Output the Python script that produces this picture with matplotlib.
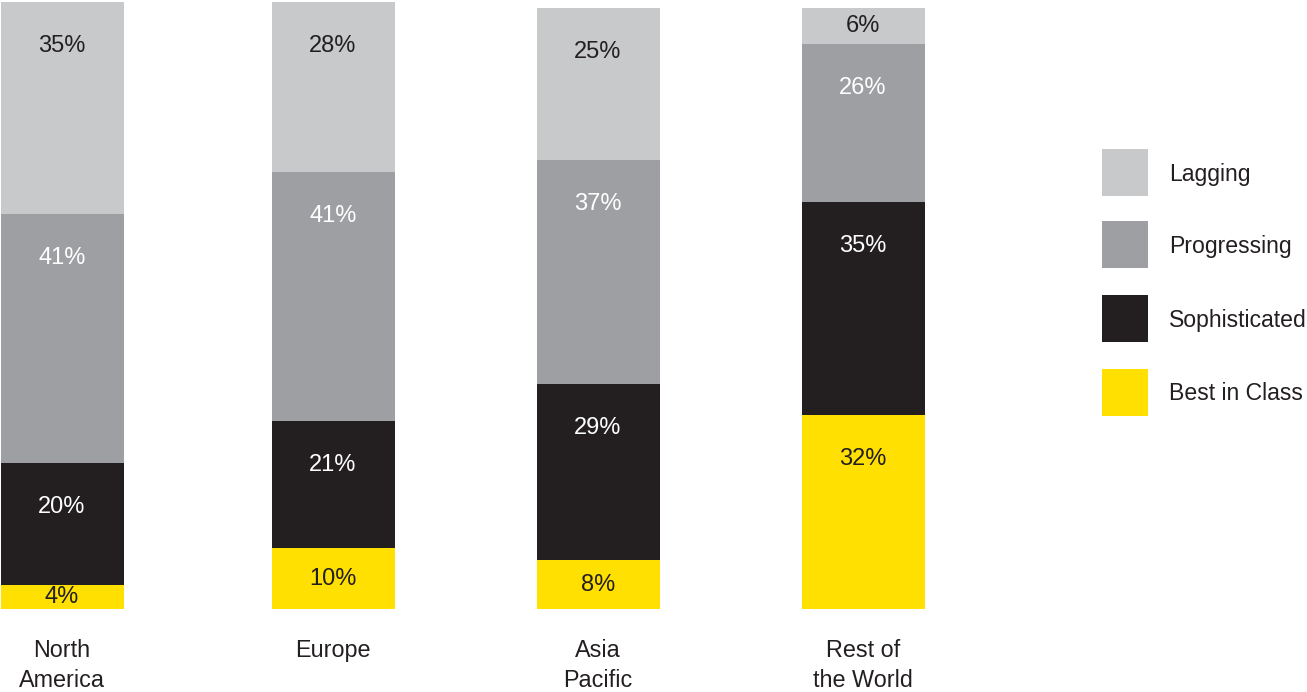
import numpy as np
import matplotlib.pyplot as plt
from matplotlib.patches import Rectangle

plt.rcParams['font.family'] = ['Liberation Sans', 'DejaVu Sans']

regions = ['North\nAmerica', 'Europe', 'Asia\nPacific', 'Rest of\nthe World']
levels = ['Best in Class', 'Sophisticated', 'Progressing', 'Lagging']
best_in_class = [4, 10, 8, 32]
sophisticated = [20, 21, 29, 35]
progressing = [41, 41, 37, 26]
lagging = [35, 28, 25, 6]

colors = ['#FFE000', '#231F20', '#9D9FA2', '#C8C9CB']
text_colors = ['#231F20', 'white', 'white', '#231F20']

W, H = 1307, 692
fig = plt.figure(figsize=(W / 100, H / 100), dpi=100)

# x axis in pixels across the full figure width
ax = fig.add_axes([0, (H - 609) / H, 1, 607 / H])
ax.set_xlim(0, W)
ax.set_ylim(0, 100)
ax.axis('off')

x = np.array([62, 333, 598, 863])
width = 123
series = [best_in_class, sophisticated, progressing, lagging]
bottom = np.zeros(len(regions))
label_offset = 44 / 607 * 100
for vals, col, tcol in zip(series, colors, text_colors):
    vals = np.array(vals, dtype=float)
    ax.bar(x, vals, width, bottom=bottom, color=col, linewidth=0)
    for xi, b, v in zip(x, bottom, vals):
        top = b + v
        ly = top - min(label_offset, v / 2)
        ax.text(xi, ly, f'{int(v)}%', ha='center', va='center',
                fontsize=17, color=tcol)
    bottom += vals

for xi, name in zip(x, regions):
    ax.text(xi, -5.0, name, ha='center', va='top', fontsize=16.8,
            color='#231F20', linespacing=1.35, clip_on=False)

# legend squares on the right
leg_y = [149, 221, 295, 369]
for name, col, y in zip(levels[::-1], colors[::-1], leg_y):
    fig.add_artist(Rectangle((1102 / W, 1 - (y + 47) / H), 46 / W, 47 / H,
                             transform=fig.transFigure, color=col, lw=0))
    fig.text(1169 / W, 1 - (y + 25) / H, name, ha='left', va='center',
             fontsize=16.6, color='#231F20')

fig.savefig('out.png', dpi=100)
